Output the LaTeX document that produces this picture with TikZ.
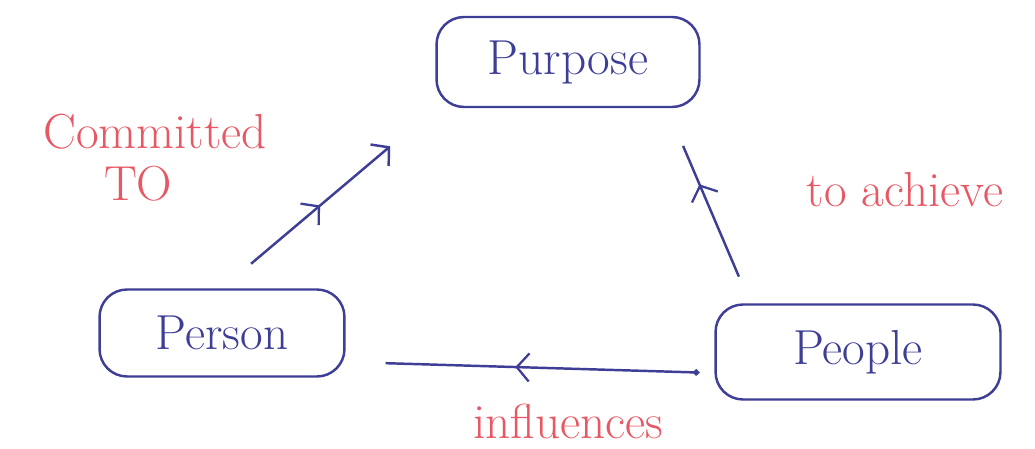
\documentclass[tikz,border=0pt]{standalone}
\usetikzlibrary{arrows.meta,decorations.markings}
\definecolor{pen}{RGB}{62,62,150}
\definecolor{ink}{RGB}{232,88,100}

\begin{document}
\begin{tikzpicture}[x=0.02cm,y=-0.02cm,
    blob/.style={draw=pen,text=pen,line width=1.4pt,rounded corners=0.55cm,font=\fontsize{28}{32}\selectfont},
    note/.style={text=ink,font=\fontsize{28}{32}\selectfont,inner sep=1pt},
    conn/.style={draw=pen,line width=1.4pt},
    midarrow/.style={postaction={decorate},decoration={markings,
      mark=at position #1 with {\arrow[pen,line width=1.3pt]{Straight Barb[length=7pt,width=16pt]}}}}]
   \useasboundingbox (0,0) rectangle (1035,449);
   \node[blob,minimum width=5.26cm,minimum height=1.8cm] (purpose) at (568,62) {Purpose};
   \node[blob,minimum width=4.9cm,minimum height=1.74cm] (person) at (222,333) {Person};
   \node[blob,minimum width=5.7cm,minimum height=1.9cm] (people) at (858,352) {People};
   \node[note] (cmt) at (155,132) {Committed};
   \node[note,anchor=west] (cmtto) at (102,184) {TO};
   \node[note] (achieve) at (905,190) {to achieve};
   \node[note] (infl) at (568,421) {influences};
   \draw[conn,midarrow=0.46,-{Straight Barb[length=7pt,width=16pt]},shorten <=0.76cm,shorten >=1.18cm]
     (person.north) -- (purpose.south west);
   \draw[conn,midarrow=0.61,shorten <=0.58cm,shorten >=0.82cm]
     ([xshift=0.72cm]people.north west) -- ([xshift=1.98cm]purpose.south);
   \draw[conn,midarrow=0.54,{Circle[length=3.5pt]}-,shorten <=0.3cm,shorten >=0.8cm]
     ([yshift=-0.42cm]people.west) -- ([yshift=-0.58cm]person.east);
  \end{tikzpicture}
\end{document}
